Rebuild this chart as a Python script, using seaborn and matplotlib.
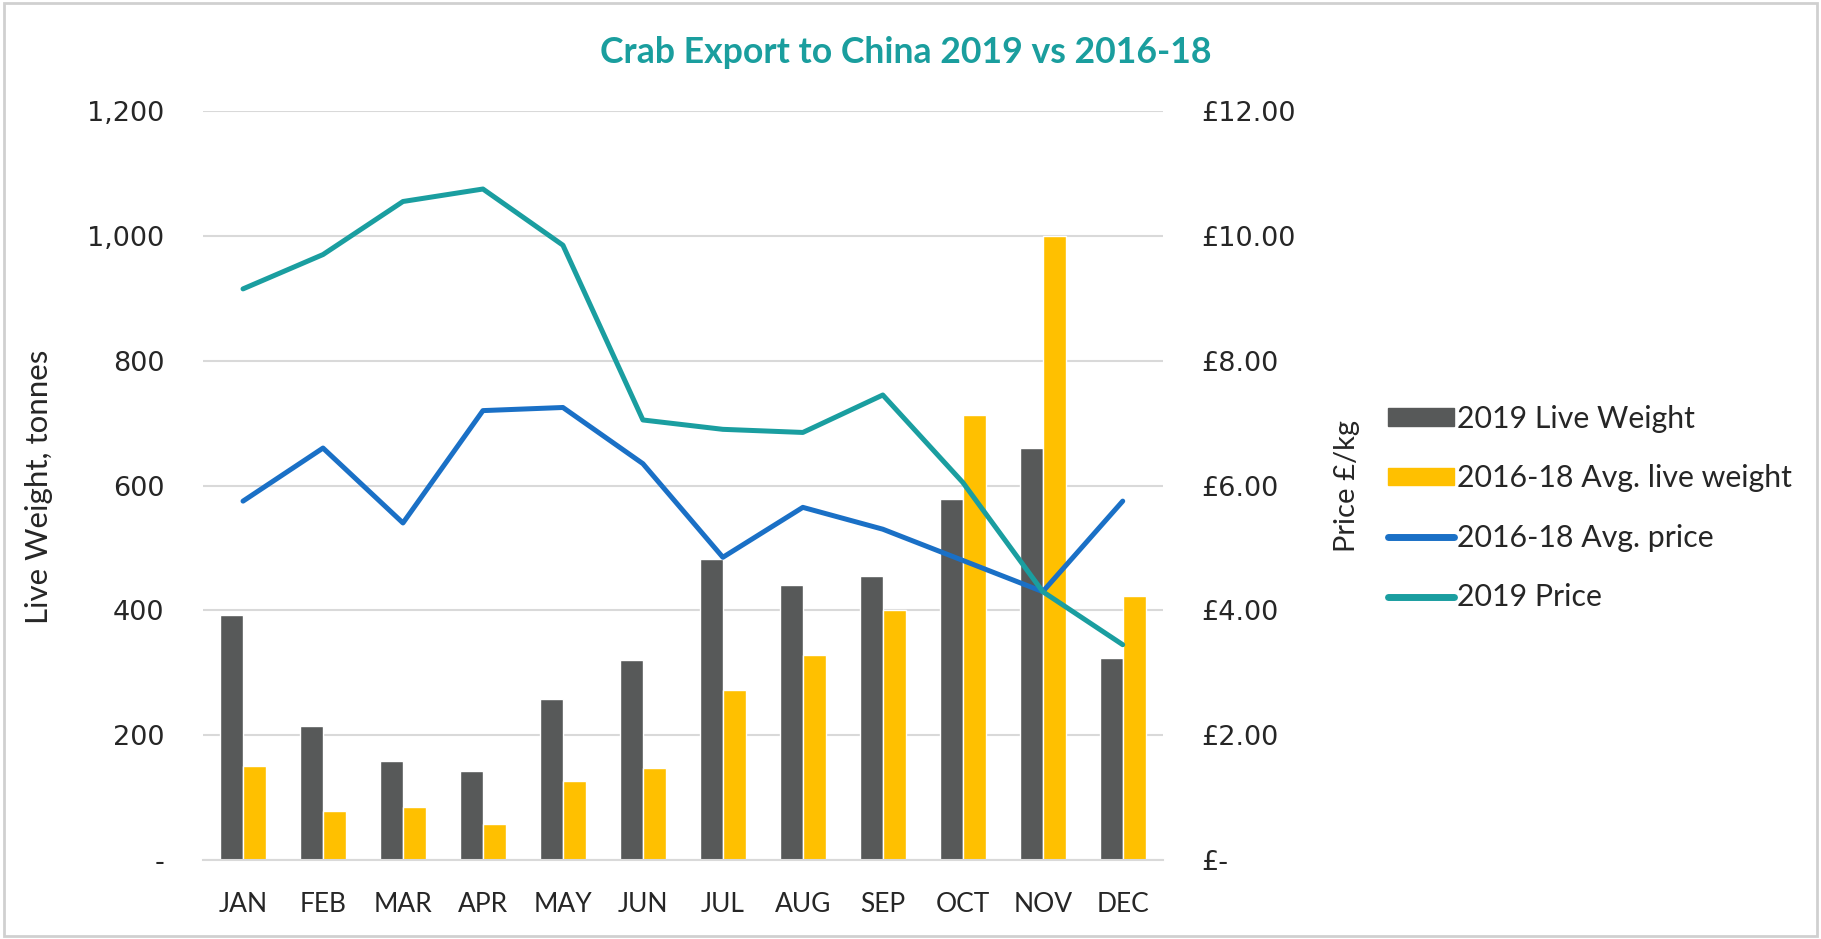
import numpy as np
import pandas as pd
import matplotlib
matplotlib.use("Agg")
import matplotlib.pyplot as plt
import seaborn as sns
from matplotlib.ticker import FuncFormatter
from matplotlib.patches import Patch
from matplotlib.lines import Line2D

months = ["JAN", "FEB", "MAR", "APR", "MAY", "JUN", "JUL", "AUG", "SEP", "OCT", "NOV", "DEC"]
weight_2019 = [393, 215, 158, 143, 258, 320, 483, 440, 455, 578, 660, 323]
weight_avg = [150, 78, 85, 57, 127, 148, 273, 328, 400, 713, 1000, 423]
price_avg = [5.75, 6.6, 5.4, 7.2, 7.25, 6.35, 4.85, 5.65, 5.3, 4.8, 4.3, 5.75]
price_2019 = [9.15, 9.7, 10.55, 10.75, 9.85, 7.05, 6.9, 6.85, 7.45, 6.05, 4.3, 3.45]

bar_names = ["2019 Live Weight", "2016-18 Avg. live weight"]
line_names = ["2016-18 Avg. price", "2019 Price"]
bar_colors = ["#575959", "#FFC000"]
line_colors = ["#1A70C6", "#1A9EA0"]

sns.set_theme(style="white")
plt.rcParams["font.family"] = ["Lato", "DejaVu Sans"]

bars = pd.DataFrame({
    "month": months * 2,
    "weight": weight_2019 + weight_avg,
    "series": [bar_names[0]] * 12 + [bar_names[1]] * 12,
})
lines = pd.DataFrame({
    "pos": list(range(12)) * 2,
    "price": price_avg + price_2019,
    "series": [line_names[0]] * 12 + [line_names[1]] * 12,
})

fig = plt.figure(figsize=(18.21, 9.39), dpi=100)
ax = fig.add_axes([0.1115, 0.0841, 0.527, 0.7977])

sns.barplot(data=bars, x="month", y="weight", hue="series", order=months,
            palette=bar_colors, width=0.58, gap=0, saturation=1,
            ax=ax, legend=False)

ax.set_ylim(0, 1200)
ax.set_yticks(range(0, 1201, 200))
ax.yaxis.set_major_formatter(FuncFormatter(lambda v, p: "-" if v == 0 else f"{v:,.0f}"))
ax.grid(axis="y", color="#D9D9D9", linewidth=1.5)
ax.set_axisbelow(True)
for s in ["top", "right", "left"]:
    ax.spines[s].set_visible(False)
ax.spines["bottom"].set_color("#D9D9D9")
ax.spines["bottom"].set_linewidth(1.5)
ax.set_xlabel("")
ax.set_ylabel("Live Weight, tonnes", fontsize=22.5)
ax.yaxis.set_label_coords(-0.156, 0.498)
ax.tick_params(axis="x", labelsize=19, pad=23, length=0)
ax.tick_params(axis="y", length=0, pad=28, labelsize=19.5, labelfontfamily="DejaVu Sans")
ax.set_xlim(-0.5, 11.5)

ax2 = ax.twinx()
sns.lineplot(data=lines, x="pos", y="price", hue="series",
             palette=line_colors, linewidth=3.6, ax=ax2,
             legend=False, sort=False)
for ln in ax2.get_lines():
    ln.set_solid_capstyle("round")
ax2.set_ylim(0, 12)
ax2.set_yticks(range(0, 13, 2))
ax2.yaxis.set_major_formatter(FuncFormatter(lambda v, p: "£-" if v == 0 else f"£{v:.2f}"))
ax2.tick_params(axis="y", length=0, pad=28, labelsize=19.5, labelfontfamily="DejaVu Sans")
for s in ax2.spines.values():
    s.set_visible(False)
ax2.set_xlim(-0.5, 11.5)
ax2.set_xlabel("")
ax2.set_ylabel("Price £/kg", fontsize=21)
ax2.yaxis.set_label_coords(1.179, 0.5)

handles = [
    Patch(color=bar_colors[0], label=bar_names[0]),
    Patch(color=bar_colors[1], label=bar_names[1]),
    Line2D([], [], color=line_colors[0], linewidth=5, solid_capstyle="round", label=line_names[0]),
    Line2D([], [], color=line_colors[1], linewidth=5, solid_capstyle="round", label=line_names[1]),
]
fig.legend(handles=handles, loc="center left", bbox_to_anchor=(0.762, 0.459),
           frameon=False, fontsize=21.8, handlelength=2.2, handleheight=0.5,
           handletextpad=0.1, labelspacing=1.04, borderpad=0, borderaxespad=0)

fig.suptitle("Crab Export to China 2019 vs 2016-18", x=0.4975, y=0.962,
             color="#1A9E9E", fontsize=25.7, fontweight="bold")

fig.patches.append(plt.Rectangle((0.002, 0.003), 0.996, 0.994, transform=fig.transFigure,
                                 fill=False, edgecolor="#D0D0D0", linewidth=2))

fig.savefig("out.png", dpi=100)
